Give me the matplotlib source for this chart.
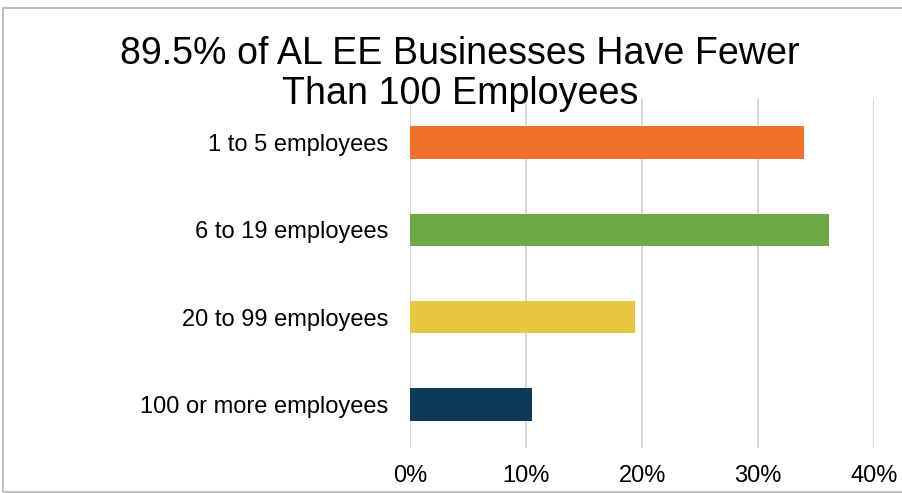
import matplotlib
matplotlib.use("Agg")
import matplotlib.pyplot as plt
from matplotlib.patches import Rectangle

categories = ["1 to 5 employees", "6 to 19 employees", "20 to 99 employees", "100 or more employees"]
values = [34.0, 36.1, 19.4, 10.5]
colors = ["#F37029", "#6CA845", "#E8C640", "#0E3A57"]
xticks = [0, 10, 20, 30, 40]
xtick_labels = ["0%", "10%", "20%", "30%", "40%"]
title_lines = ["89.5% of AL EE Businesses Have Fewer", "Than 100 Employees"]

plt.rcParams['font.family'] = ['Liberation Sans', 'DejaVu Sans']

W, H = 903, 493
fig = plt.figure(figsize=(W / 100, H / 100), dpi=100)
fig.patch.set_facecolor("white")

ax = fig.add_axes([410.5 / W, (H - 448) / H, (874 - 410.5) / W, (448 - 99) / H])
ypos = list(range(len(categories)))
ax.barh(ypos, values, height=0.37, color=colors, zorder=3)
ax.set_ylim(len(categories) - 0.5, -0.5)
ax.set_xlim(0, 40)
ax.set_yticks(ypos)
ax.set_yticklabels(categories, fontsize=17, color="black")
ax.set_xticks(xticks)
ax.set_xticklabels(xtick_labels, fontsize=17, color="black")
ax.tick_params(axis="y", length=0, pad=16)
ax.tick_params(axis="x", length=0, pad=12)
ax.grid(axis="x", color="#D9D9D9", linewidth=1.5, zorder=0)
ax.set_axisbelow(True)
for s in ax.spines.values():
    s.set_visible(False)

# title
fig.text(460 / W, (H - 63.5) / H, title_lines[0], ha="center", va="baseline", fontsize=27.1, color="black")
fig.text(460 / W, (H - 104) / H, title_lines[1], ha="center", va="baseline", fontsize=27.1, color="black")

# border
fig.patches.append(Rectangle((3 / W, (H - 491.5) / H), (W + 10) / W, (491.5 - 7.5) / H,
                             transform=fig.transFigure, fill=False, edgecolor="#BFBFBF",
                             linewidth=1.5, clip_on=False))

fig.savefig("out.png", dpi=100, facecolor="white")
